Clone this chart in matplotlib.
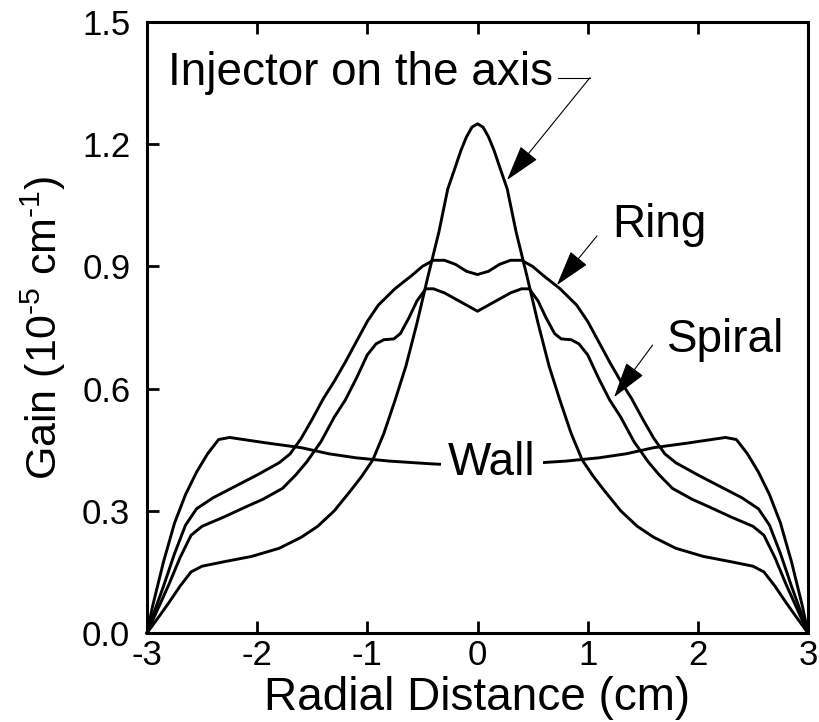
import matplotlib
matplotlib.use("Agg")
import matplotlib.pyplot as plt

plt.rcParams['font.family'] = ['Liberation Sans', 'DejaVu Sans']
plt.rcParams['mathtext.fontset'] = 'custom'
plt.rcParams['mathtext.rm'] = 'Liberation Sans'
plt.rcParams['mathtext.it'] = 'Liberation Sans:italic'
plt.rcParams['axes.unicode_minus'] = False

# ---- data ----
inj_x = [-3.00, -2.90, -2.80, -2.70, -2.60, -2.50, -2.30, -2.05, -1.80, -1.60, -1.45, -1.30, -1.15,
         -1.05, -0.95, -0.85, -0.75, -0.65, -0.55, -0.45, -0.35, -0.27, -0.20, -0.15, -0.10, -0.05,
         0.00,
         0.05, 0.10, 0.15, 0.20, 0.27, 0.35, 0.45, 0.55, 0.65, 0.75, 0.85, 0.95, 1.05,
         1.15, 1.30, 1.45, 1.60, 1.80, 2.05, 2.30, 2.50, 2.60, 2.70, 2.80, 2.90, 3.00]
inj_y = [0.000, 0.037, 0.075, 0.115, 0.150, 0.164, 0.175, 0.188, 0.208, 0.235, 0.262, 0.300, 0.350,
         0.385, 0.425, 0.490, 0.570, 0.655, 0.760, 0.875, 0.985, 1.090, 1.145, 1.185, 1.218, 1.242,
         1.250,
         1.242, 1.218, 1.185, 1.145, 1.090, 0.985, 0.875, 0.760, 0.655, 0.570, 0.490, 0.425, 0.385,
         0.350, 0.300, 0.262, 0.235, 0.208, 0.188, 0.175, 0.164, 0.150, 0.115, 0.075, 0.037, 0.000]

ring_x = [-3.00, -2.95, -2.85, -2.75, -2.65, -2.55, -2.40, -2.20, -2.00, -1.80, -1.70, -1.60, -1.50,
          -1.40, -1.30, -1.20, -1.10, -1.00, -0.90, -0.75, -0.60, -0.50, -0.40, -0.30, -0.20, -0.10,
          0.00,
          0.10, 0.20, 0.30, 0.40, 0.50, 0.60, 0.75, 0.90, 1.00, 1.10, 1.20, 1.30, 1.40,
          1.50, 1.60, 1.70, 1.80, 2.00, 2.20, 2.40, 2.55, 2.65, 2.75, 2.85, 2.95, 3.00]
ring_y = [0.000, 0.040, 0.115, 0.195, 0.265, 0.305, 0.332, 0.360, 0.388, 0.418, 0.440, 0.478, 0.525,
          0.575, 0.618, 0.665, 0.715, 0.765, 0.805, 0.845, 0.877, 0.900, 0.915, 0.915, 0.905, 0.888,
          0.880,
          0.888, 0.905, 0.915, 0.915, 0.900, 0.877, 0.845, 0.805, 0.765, 0.715, 0.665, 0.618, 0.575,
          0.525, 0.478, 0.440, 0.418, 0.388, 0.360, 0.332, 0.305, 0.265, 0.195, 0.115, 0.040, 0.000]

spiral_x = [-3.00, -2.90, -2.80, -2.70, -2.60, -2.50, -2.30, -2.10, -1.95, -1.77, -1.65, -1.55, -1.42,
            -1.30, -1.20, -1.10, -1.00, -0.92, -0.85, -0.76, -0.70, -0.62, -0.55, -0.47, -0.40, -0.30,
            -0.20, -0.10,
            0.00,
            0.10, 0.20, 0.30, 0.40, 0.47, 0.55, 0.62, 0.70, 0.76, 0.85, 0.92, 1.00, 1.10,
            1.20, 1.30, 1.42, 1.55, 1.65, 1.77, 1.95, 2.10, 2.30, 2.50, 2.60, 2.70, 2.80, 2.90, 3.00]
spiral_y = [0.000, 0.060, 0.120, 0.185, 0.240, 0.262, 0.285, 0.310, 0.328, 0.355, 0.388, 0.420, 0.470,
            0.530, 0.572, 0.625, 0.683, 0.710, 0.720, 0.722, 0.735, 0.775, 0.815, 0.845, 0.845, 0.835,
            0.820, 0.805,
            0.790,
            0.805, 0.820, 0.835, 0.845, 0.845, 0.815, 0.775, 0.735, 0.722, 0.720, 0.710, 0.683, 0.625,
            0.572, 0.530, 0.470, 0.420, 0.388, 0.355, 0.328, 0.310, 0.285, 0.262, 0.240, 0.185, 0.120,
            0.060, 0.000]

wall_x = [-3.00, -2.95, -2.85, -2.75, -2.65, -2.55, -2.45, -2.35, -2.25, -2.10, -1.90, -1.60, -1.35,
          -1.10, -0.80, -0.40,
          0.00,
          0.40, 0.80, 1.10, 1.35, 1.60, 1.90, 2.10, 2.25, 2.35, 2.45, 2.55, 2.65, 2.75, 2.85, 2.95, 3.00]
wall_y = [0.000, 0.065, 0.175, 0.270, 0.340, 0.395, 0.440, 0.475, 0.480, 0.474, 0.466, 0.455, 0.440,
          0.430, 0.422, 0.415,
          0.410,
          0.415, 0.422, 0.430, 0.440, 0.455, 0.466, 0.474, 0.480, 0.475, 0.440, 0.395, 0.340, 0.270,
          0.175, 0.065, 0.000]

x_ticks = [-3, -2, -1, 0, 1, 2, 3]
y_ticks = [0.0, 0.3, 0.6, 0.9, 1.2, 1.5]

# ---- figure ----
fig = plt.figure(figsize=(8.19, 7.22), dpi=100)
ax = fig.add_axes([147 / 819, 89 / 722, 661 / 819, 611 / 722])

lw = 2.1
for xs, ys in [(inj_x, inj_y), (ring_x, ring_y), (spiral_x, spiral_y), (wall_x, wall_y)]:
    ax.plot(xs, ys, color='black', lw=lw, solid_joinstyle='round', clip_on=False)

ax.set_xlim(-3, 3)
ax.set_ylim(0, 1.5)
ax.set_xticks(x_ticks)
ax.set_xticklabels([str(t) for t in x_ticks])
ax.set_yticks(y_ticks)
ax.set_yticklabels(['%.1f' % t for t in y_ticks])

for s in ax.spines.values():
    s.set_linewidth(2.2)

ax.tick_params(axis='both', direction='in', length=8.5, width=2.0, labelsize=25,
               top=True, right=False)
ax.tick_params(axis='x', pad=4)
ax.tick_params(axis='y', pad=12)

ax.set_xlabel('Radial Distance (cm)', fontsize=33, labelpad=3)
ax.set_ylabel('Gain (10$^{\\mathrm{\u2010}5}$ cm$^{\\mathrm{\u2010}1}$)', fontsize=31, labelpad=10)

# ---- annotations ----
txt_kw = dict(fontsize=33, color='black')
head = dict(arrowstyle='-|>,head_length=23,head_width=6.8', mutation_scale=1,
            color='black', lw=0.8, shrinkA=0, shrinkB=0)

ax.text(0.685, 1.345, 'Injector on the axis', ha='right', va='baseline', **txt_kw)
ax.plot([0.73, 1.02], [1.363, 1.363], color='black', lw=0.8)
ax.annotate('', xy=(0.268, 1.112), xytext=(1.02, 1.363), arrowprops=head)

ax.text(1.22, 0.972, 'Ring', ha='left', va='baseline', **txt_kw)
ax.annotate('', xy=(0.72, 0.854), xytext=(1.085, 0.975), arrowprops=head)

ax.text(1.72, 0.69, 'Spiral', ha='left', va='baseline', **txt_kw)
ax.annotate('', xy=(1.24, 0.579), xytext=(1.59, 0.707), arrowprops=head)

ax.text(0.13, 0.418, 'Wall', ha='center', va='center', zorder=5,
        bbox=dict(boxstyle='square,pad=0.15', facecolor='white', edgecolor='none'), **txt_kw)

fig.savefig('out.png', dpi=100)
